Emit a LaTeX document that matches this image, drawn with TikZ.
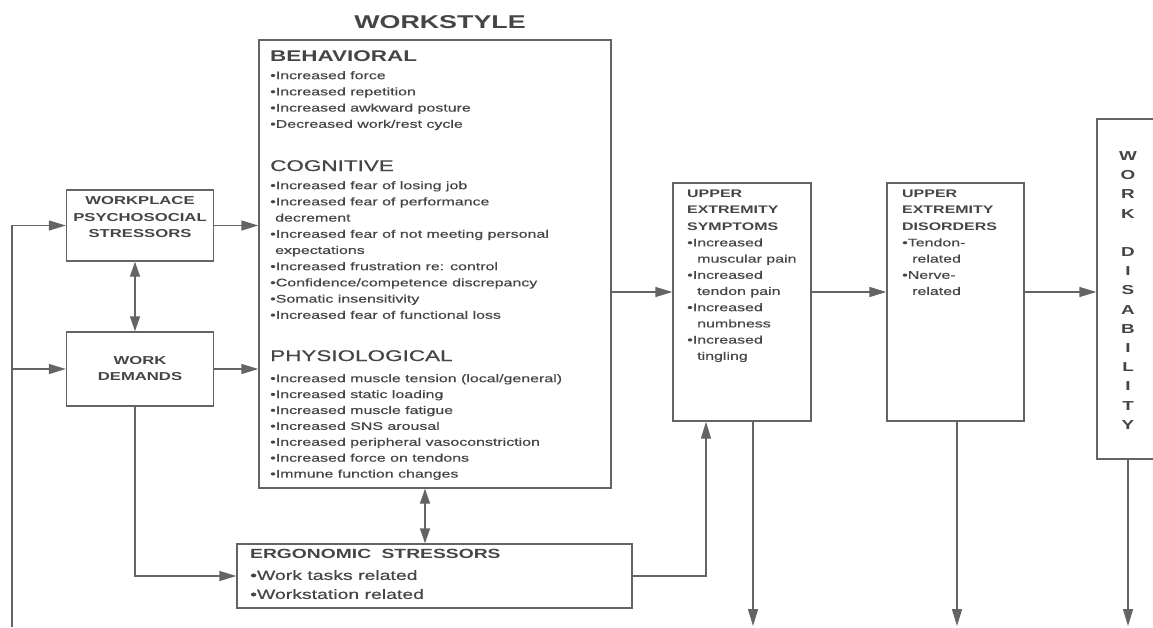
\documentclass[tikz,border=0pt]{standalone}
\usepackage{fontspec}
\setmainfont{Liberation Sans}[FakeStretch=1.45,UprightFeatures={FakeBold=0.4}]
\usetikzlibrary{arrows.meta}
\definecolor{ink}{HTML}{454545}
\definecolor{rule}{HTML}{646464}

\begin{document}
\begin{tikzpicture}[x=1pt,y=-1pt,
  box/.style={draw=rule,line width=1.4pt,rectangle,inner sep=0pt},
  wire/.style={draw=rule,line width=1.4pt},
  arr/.style={wire,-{Triangle[length=17pt,width=10pt]}},
  dbl/.style={wire,{Triangle[length=15pt,width=10pt]}-{Triangle[length=15pt,width=10pt]}},
  txt/.style={text=ink,inner sep=0pt,align=left,anchor=north west},
  ctxt/.style={text=ink,inner sep=0pt,align=center},
  small/.style={font=\fontsize{11}{16.2}\selectfont}]

\useasboundingbox (0,0) rectangle (1153,627);
\clip (0,0) rectangle (1153,627);
\fill[white] (0,0) rectangle (1153,627);

% ---- boxes ----
\node[box,minimum width=147pt,minimum height=71pt] (wps) at (140,225.5) {};
\node[box,minimum width=147pt,minimum height=74pt] (wd) at (140,369) {};
\node[box,minimum width=352pt,minimum height=448pt] (ws) at (435,264) {};
\node[box,minimum width=395pt,minimum height=64pt] (erg) at (434.5,576) {};
\node[box,minimum width=138pt,minimum height=238pt] (ues) at (742,302) {};
\node[box,minimum width=137pt,minimum height=238pt] (ued) at (955.5,302) {};
\node[box,minimum width=73pt,minimum height=340pt] (wdis) at (1133.5,289) {};

% ---- box texts ----
\node[text=ink,font=\bfseries\fontsize{18.5}{20}\selectfont] (title) at (440,22) {WORKSTYLE};

\node[ctxt,font=\bfseries\fontsize{11.5}{16.5}\selectfont] (wpst) at (140,217.5)
  {WORKPLACE\\PSYCHOSOCIAL\\STRESSORS};
\node[ctxt,font=\bfseries\fontsize{11.5}{16.5}\selectfont] (wdt) at (140,368.5)
  {WORK\\DEMANDS};

\node[txt,font=\bfseries\fontsize{15.5}{18}\selectfont] (hb) at (270,50) {BEHAVIORAL};
\node[txt,small] (lb) at (270,71) {%
  •Increased force\\
  •Increased repetition\\
  •Increased awkward posture\\
  •Decreased work/rest cycle};

\node[txt,font=\fontsize{15.5}{18}\selectfont] (hc) at (270,160) {COGNITIVE};
\node[txt,small] (lc) at (270,181) {%
  •Increased fear of losing job\\
  •Increased fear of performance\\
  \hspace*{5pt}decrement\\
  •Increased fear of not meeting personal\\
  \hspace*{5pt}expectations\\
  •Increased frustration re: control\\
  •Confidence/competence discrepancy\\
  •Somatic insensitivity\\
  •Increased fear of functional loss};

\node[txt,font=\fontsize{15.5}{18}\selectfont] (hp) at (270,350) {PHYSIOLOGICAL};
\node[txt,font=\fontsize{11}{15.9}\selectfont] (lp) at (270,374) {%
  •Increased muscle tension (local/general)\\
  •Increased static loading\\
  •Increased muscle fatigue\\
  •Increased SNS arousal\\
  •Increased peripheral vasoconstriction\\
  •Increased force on tendons\\
  •Immune function changes};

\node[txt,font=\bfseries\fontsize{13.3}{19}\selectfont] (he) at (250,549)
  {ERGONOMIC\hspace{5pt} STRESSORS};
\node[txt,font=\fontsize{13.4}{19}\selectfont] (le) at (250,570)
  {•Work tasks related\\•Workstation related};

\node[txt,small] (uest) at (687,190) {%
  \textbf{UPPER}\\
  \textbf{EXTREMITY}\\
  \textbf{SYMPTOMS}\\
  •Increased\\
  \hspace*{10pt}muscular pain\\
  •Increased\\
  \hspace*{10pt}tendon pain\\
  •Increased\\
  \hspace*{10pt}numbness\\
  •Increased\\
  \hspace*{10pt}tingling};

\node[txt,small] (uedt) at (902,190) {%
  \textbf{UPPER}\\
  \textbf{EXTREMITY}\\
  \textbf{DISORDERS}\\
  •Tendon-\\
  \hspace*{10pt}related\\
  •Nerve-\\
  \hspace*{10pt}related};

\node[ctxt,font=\bfseries\fontsize{13}{19.2}\selectfont] (wdist) at (1128,290.5)
  {W\\O\\R\\K\\[19.2pt]D\\I\\S\\A\\B\\I\\L\\I\\T\\Y};

% ---- connectors ----
\coordinate (fb) at (12,627);
\coordinate (row) at (0,292);
\coordinate (bot) at (0,626);

\draw[arr] (fb) |- (wps.west);
\draw[arr] (fb |- wd.west) -- (wd.west);
\draw[arr] (wps.east) -- (wps.east -| ws.west);
\draw[arr] (wd.east) -- (wd.east -| ws.west);
\draw[dbl] ([xshift=-5pt]wps.south) -- ([xshift=-5pt]wd.north);
\draw[arr] ([xshift=-5pt]wd.south) |- (erg.west);
\draw[dbl] ([xshift=-10pt]ws.south) -- ([xshift=-10pt]ws.south |- erg.north);
\draw[arr] (erg.east) -| ([xshift=-36pt]ues.south);
\draw[arr] (ws.east |- row) -- (ues.west |- row);
\draw[arr] (ues.east |- row) -- (ued.west |- row);
\draw[arr] (ued.east |- row) -- (wdis.west |- row);
\draw[arr] ([xshift=11pt]ues.south) -- ([xshift=11pt]ues.south |- bot);
\draw[arr] ([xshift=1.5pt]ued.south) -- ([xshift=1.5pt]ued.south |- bot);
\draw[arr] ([xshift=-5.5pt]wdis.south) -- ([xshift=-5.5pt]wdis.south |- bot);
\end{tikzpicture}
\end{document}
